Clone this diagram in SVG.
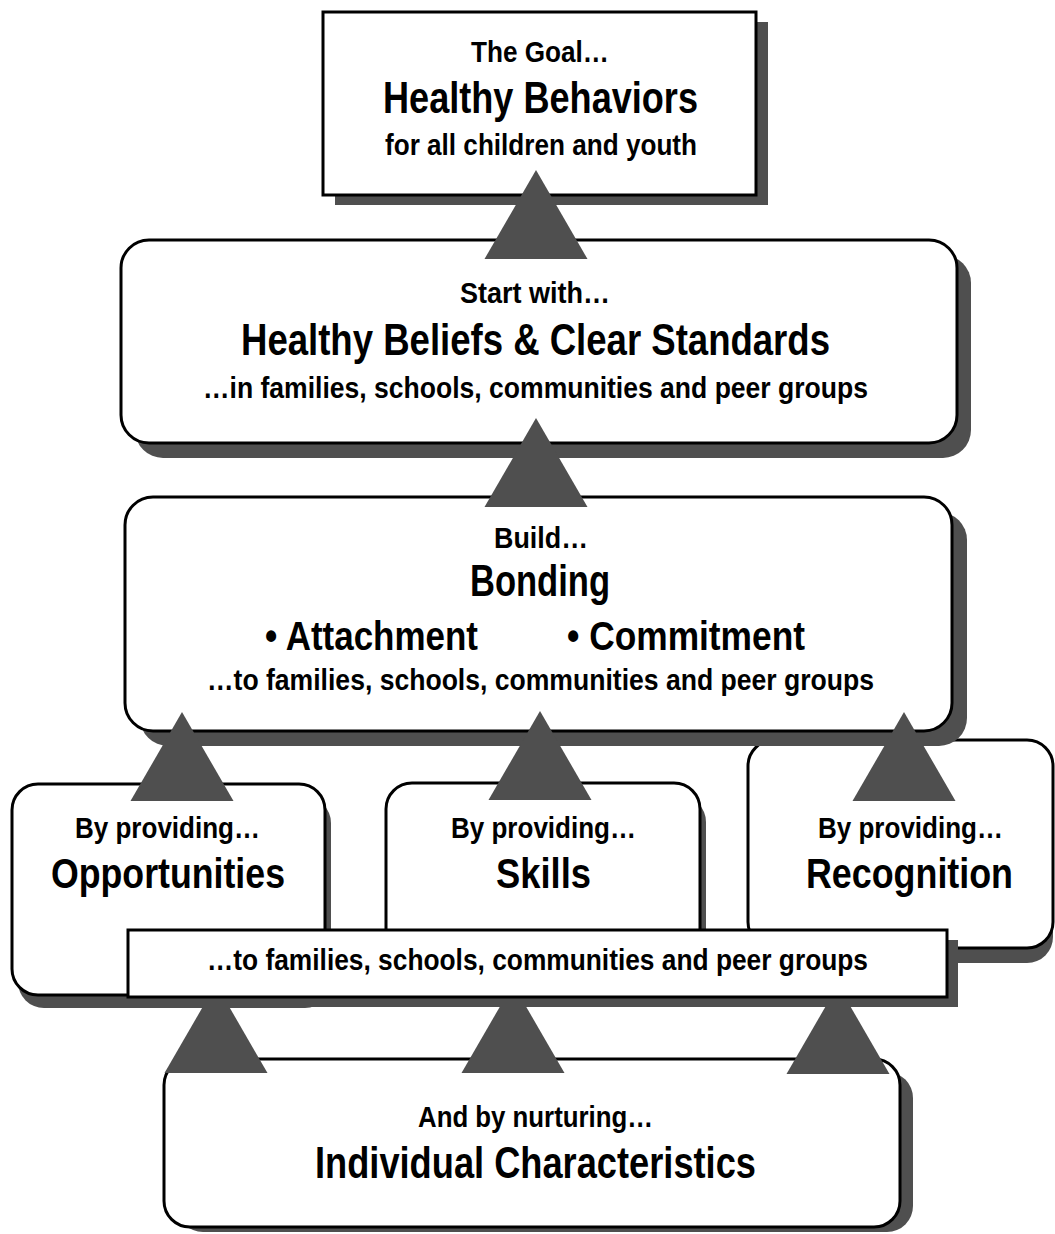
<svg xmlns="http://www.w3.org/2000/svg" width="1055" height="1234" viewBox="0 0 1055 1234">
<style>
.box{fill:#fff;stroke:#000;stroke-width:3}
.sh{fill:#4f4f4f}
.tri{fill:#4f4f4f}
text{font-family:"Liberation Sans Narrow","Liberation Sans",Arial,sans-serif;font-weight:bold;fill:#000;text-anchor:middle}
.s{font-size:30px}
.m{font-size:29px}
.b{font-size:44px}
.r{font-size:42px}
.a{font-size:40px}
</style>
<rect width="1055" height="1234" fill="#fff"/>
<g id="goal">
<rect class="sh" x="335" y="22" width="433" height="183"/>
<rect class="box" x="323" y="12" width="433" height="183"/>
<text class="s" x="540" y="62" textLength="138" lengthAdjust="spacingAndGlyphs">The Goal…</text>
<text class="b" x="540.5" y="113" textLength="315" lengthAdjust="spacingAndGlyphs">Healthy Behaviors</text>
<text class="m" x="541" y="155" textLength="312" lengthAdjust="spacingAndGlyphs">for all children and youth</text>
</g>
<g id="beliefs">
<rect class="sh" x="135" y="255" width="836" height="203" rx="28"/>
<rect class="box" x="121" y="240" width="836" height="203" rx="28"/>
<text class="s" x="535" y="303" textLength="150" lengthAdjust="spacingAndGlyphs">Start with…</text>
<text class="b" x="535.5" y="355" textLength="589" lengthAdjust="spacingAndGlyphs">Healthy Beliefs &amp; Clear Standards</text>
<text class="m" x="535.5" y="398" textLength="665" lengthAdjust="spacingAndGlyphs">…in families, schools, communities and peer groups</text>
</g>
<g id="recognition">
<rect class="sh" x="762" y="755" width="291" height="208" rx="26"/>
<rect class="box" x="748" y="740" width="305" height="208" rx="26"/>
<text class="s" x="910.5" y="838" textLength="185" lengthAdjust="spacingAndGlyphs">By providing…</text>
<text class="r" x="909.5" y="888" textLength="207" lengthAdjust="spacingAndGlyphs">Recognition</text>
</g>
<g id="opportunities">
<rect class="sh" x="18" y="797" width="313" height="211" rx="26"/>
<rect class="box" x="12" y="784" width="313" height="211" rx="26"/>
<text class="s" x="167.5" y="838" textLength="185" lengthAdjust="spacingAndGlyphs">By providing…</text>
<text class="r" x="168" y="888" textLength="234" lengthAdjust="spacingAndGlyphs">Opportunities</text>
</g>
<g id="skills">
<rect class="sh" x="392" y="796" width="314" height="200" rx="26"/>
<rect class="box" x="386" y="783" width="314" height="200" rx="26"/>
<text class="s" x="543.5" y="838" textLength="185" lengthAdjust="spacingAndGlyphs">By providing…</text>
<text class="r" x="543.5" y="888" textLength="95" lengthAdjust="spacingAndGlyphs">Skills</text>
</g>
<g id="bonding">
<rect class="sh" x="140" y="512" width="827" height="234" rx="28"/>
<rect class="box" x="125" y="497" width="827" height="234" rx="28"/>
<text class="s" x="541" y="548" textLength="94" lengthAdjust="spacingAndGlyphs">Build…</text>
<text class="b" x="540" y="596" textLength="140" lengthAdjust="spacingAndGlyphs">Bonding</text>
<text class="a" x="371.5" y="650" textLength="213" lengthAdjust="spacingAndGlyphs">• Attachment</text>
<text class="a" x="686" y="650" textLength="238" lengthAdjust="spacingAndGlyphs">• Commitment</text>
<text class="m" x="540.5" y="690" textLength="667" lengthAdjust="spacingAndGlyphs">…to families, schools, communities and peer groups</text>
</g>
<g id="individual">
<rect class="sh" x="177" y="1072" width="736" height="160" rx="26"/>
<rect class="box" x="164" y="1059" width="736" height="168" rx="26"/>
<text class="s" x="535.5" y="1127" textLength="235" lengthAdjust="spacingAndGlyphs">And by nurturing…</text>
<text class="b" x="535.5" y="1178" textLength="441" lengthAdjust="spacingAndGlyphs">Individual Characteristics</text>
</g>
<g id="connectors">
<polygon class="tri" points="536,170 587.5,259 484.5,259"/>
<polygon class="tri" points="536,418 587.5,507 484.5,507"/>
<polygon class="tri" points="182,712 233.5,801 130.5,801"/>
<polygon class="tri" points="540,711 591.5,800 488.5,800"/>
<polygon class="tri" points="904,712 955.5,801 852.5,801"/>
<polygon class="tri" points="216,984 267.5,1073 164.5,1073"/>
<polygon class="tri" points="513,984 564.5,1073 461.5,1073"/>
<polygon class="tri" points="838,985 889.5,1074 786.5,1074"/>
</g>
<g id="banner">
<rect class="sh" x="139" y="940" width="819" height="67"/>
<rect class="box" x="128" y="930" width="819" height="67"/>
<text class="m" x="537.5" y="970" textLength="661" lengthAdjust="spacingAndGlyphs">…to families, schools, communities and peer groups</text>
</g>
</svg>
